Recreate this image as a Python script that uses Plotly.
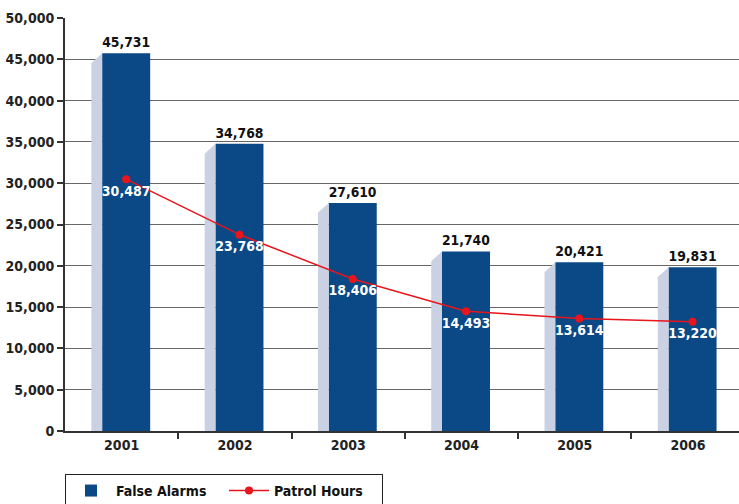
import plotly.graph_objects as go

years = ["2001", "2002", "2003", "2004", "2005", "2006"]
false_alarms = [45731, 34768, 27610, 21740, 20421, 19831]
patrol_hours = [30487, 23768, 18406, 14493, 13614, 13220]

FONT = "Liberation Sans Narrow, DejaVu Sans Condensed, Arial Narrow, sans-serif"
BLUE = "#0b4886"
SHADOW = "#c9d1e3"
RED = "#e8151c"

idx = list(range(len(years)))
bar_off = 0.04          # bar centre offset from category centre
bar_w = 0.424
sh_w = 0.095            # shadow depth (x, category units)
sh_drop = 1200          # shadow top slant (y units)

# shadow polygons built from the data
sx, sy = [], []
for i, v in zip(idx, false_alarms):
    left = i + bar_off - bar_w / 2
    sx += [left - sh_w, left - sh_w, left, left, None]
    sy += [0, v - sh_drop, v, 0, None]

fig = go.Figure()
fig.add_trace(go.Scatter(x=sx, y=sy, fill="toself", fillcolor=SHADOW,
                         line=dict(width=0), mode="lines", showlegend=False,
                         hoverinfo="skip"))
fig.add_trace(go.Bar(x=[i + bar_off for i in idx], y=false_alarms, width=bar_w,
                     marker=dict(color=BLUE, line=dict(width=0)),
                     name="False Alarms",
                     texttemplate="%{y:,}", textposition="outside",
                     textfont=dict(family=FONT, size=14, color="#111", weight="bold"),
                     cliponaxis=False))
fig.add_trace(go.Scatter(x=[i + bar_off for i in idx], y=patrol_hours,
                         mode="lines+markers+text", name="Patrol Hours",
                         line=dict(color=RED, width=1.5),
                         marker=dict(color=RED, size=8),
                         text=[f"{v:,}" for v in patrol_hours],
                         textposition="bottom center",
                         textfont=dict(family=FONT, size=14, color="white", weight="bold")))

fig.update_layout(
    width=739, height=504,
    margin=dict(l=65, r=0, t=18, b=73, autoexpand=False),
    paper_bgcolor="white", plot_bgcolor="white",
    font=dict(family=FONT, size=14, color="#222", weight="bold"),
    barmode="overlay",
    showlegend=True,
    legend=dict(orientation="h", x=0, xanchor="left", y=-0.104, yanchor="top",
                bordercolor="#222", borderwidth=1,
                font=dict(family=FONT, size=14, color="#111", weight="bold"),
                itemwidth=40, entrywidth=103),
    xaxis=dict(range=[-0.5, 5.45], tickvals=idx, ticktext=years,
               ticks="", showgrid=False, zeroline=False, automargin=False,
               showline=True, linecolor="#333", linewidth=2,
               tickfont=dict(family=FONT, size=14, color="#222", weight="bold"),
               minor=dict(ticks="outside", tickvals=[i + 0.5 for i in idx],
                          ticklen=6, tickwidth=2, tickcolor="#333", showgrid=False)),
    yaxis=dict(range=[0, 50000], tickvals=list(range(0, 50001, 5000)),
               tickformat=",", ticks="outside", ticklen=6, tickwidth=2, tickcolor="#333",
               showgrid=True, gridcolor="#666", gridwidth=1, automargin=False,
               zeroline=False, showline=True, linecolor="#333", linewidth=2,
               tickfont=dict(family=FONT, size=14, color="#222", weight="bold")),
)

fig.write_html("out.html", config={"displayModeBar": False},
               post_script="document.body.style.margin='0px';document.body.style.overflow='hidden';")
